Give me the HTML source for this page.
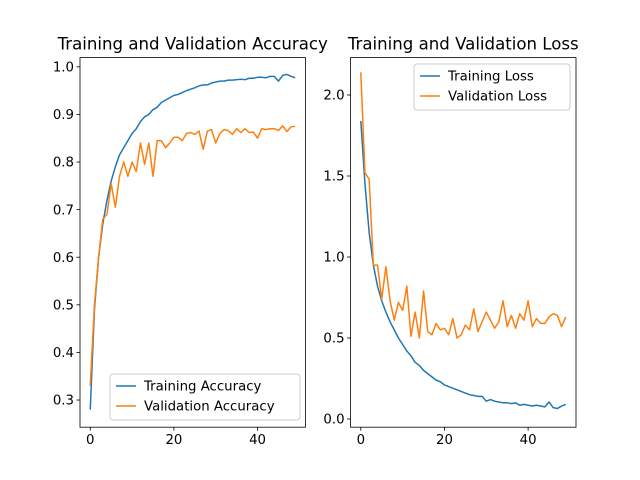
<!DOCTYPE html>
<html><head><meta charset="utf-8"><style>
body{margin:0;background:#fff}
svg{display:block;font-family:"DejaVu Sans","Liberation Sans",sans-serif}
</style></head><body>
<svg id="fig" width="640" height="480"></svg>
<script>
const epochs = Array.from({length:50},(_,i)=>i);
const trainAcc=[0.28,0.49,0.6,0.67,0.72,0.76,0.79,0.815,0.83,0.845,0.86,0.87,0.885,0.895,0.90,0.91,0.915,0.925,0.93,0.935,0.94,0.942,0.946,0.95,0.953,0.956,0.96,0.962,0.962,0.966,0.968,0.97,0.97,0.972,0.972,0.973,0.974,0.973,0.976,0.976,0.978,0.978,0.977,0.98,0.98,0.97,0.982,0.984,0.98,0.977];
const valAcc=[0.33,0.50,0.60,0.68,0.69,0.755,0.705,0.77,0.80,0.77,0.80,0.78,0.84,0.795,0.84,0.77,0.845,0.845,0.83,0.84,0.852,0.852,0.845,0.86,0.862,0.858,0.865,0.827,0.865,0.868,0.84,0.86,0.868,0.866,0.858,0.87,0.862,0.87,0.862,0.863,0.85,0.87,0.868,0.87,0.87,0.866,0.876,0.864,0.874,0.875];
const trainLoss=[1.84,1.45,1.15,0.95,0.82,0.73,0.66,0.60,0.55,0.50,0.46,0.42,0.39,0.35,0.33,0.30,0.28,0.26,0.24,0.23,0.21,0.20,0.19,0.18,0.17,0.16,0.15,0.145,0.14,0.14,0.11,0.12,0.11,0.105,0.10,0.10,0.095,0.10,0.085,0.09,0.085,0.08,0.085,0.08,0.075,0.105,0.07,0.065,0.08,0.09];
const valLoss=[2.14,1.52,1.48,0.95,0.95,0.74,0.94,0.73,0.61,0.72,0.67,0.82,0.51,0.66,0.50,0.79,0.54,0.52,0.59,0.55,0.56,0.52,0.62,0.50,0.52,0.58,0.55,0.68,0.54,0.60,0.66,0.61,0.56,0.60,0.73,0.57,0.64,0.56,0.65,0.61,0.73,0.57,0.62,0.59,0.59,0.63,0.65,0.64,0.57,0.63];
const xTicks=[0,20,40];
const accTicks=[0.3,0.4,0.5,0.6,0.7,0.8,0.9,1.0];
const lossTicks=[0.0,0.5,1.0,1.5,2.0];
const NS="http://www.w3.org/2000/svg";
const svg=document.getElementById('fig');
function mk(t,a,p){const e=document.createElementNS(NS,t);for(const k in a)e.setAttribute(k,a[k]);(p||svg).appendChild(e);return e;}
function panel(o){
  const g=mk('g',{});
  
  
  const L=o.left,R=o.left+225.45,T=57.6,B=427.2;
  const xs=v=>L+(v+2.45)/53.9*225.45;
  const ys=v=>B-(v-o.ymin)/(o.ymax-o.ymin)*(B-T);
  xTicks.forEach(t=>{const x=xs(t);mk('line',{x1:x,x2:x,y1:B,y2:B+3.5,stroke:'#000','stroke-width':0.8},g);
    const tx=mk('text',{x:x,y:B+17,'font-size':13.3,'text-anchor':'middle'},g);tx.textContent=t;
    
    });
  o.yticks.forEach(t=>{const y=ys(t);mk('line',{x1:L-3.5,x2:L,y1:y,y2:y,stroke:'#000','stroke-width':0.8},g);
    const tx=mk('text',{x:L-6,y:y+4.7,'font-size':13.3,'text-anchor':'end'},g);tx.textContent=t.toFixed(1);
    
    });
  o.series.forEach(s=>{const p=mk('polyline',{points:s.d.map((v,i)=>xs(epochs[i]).toFixed(2)+','+ys(v).toFixed(2)).join(' '),fill:'none',stroke:s.c,'stroke-width':1.5,'stroke-linejoin':'round'},g);
    
    });
  mk('rect',{x:L,y:T,width:225.45,height:B-T,fill:'none',stroke:'#000','stroke-width':0.8},g);
  const tt=mk('text',{x:(L+R)/2,y:49.5,'font-size':16.6,'text-anchor':'middle'},g);tt.textContent=o.title;
  
  
  const lg=mk('g',{},g);
  
  
  mk('rect',{x:o.lx,y:o.ly,width:o.lw,height:46,rx:3,fill:'#fff','fill-opacity':0.8,stroke:'#ccc','stroke-width':1},lg);
  o.series.forEach((s,i)=>{const y=o.ly+12+i*20;
    mk('line',{x1:o.lx+6,x2:o.lx+26,y1:y,y2:y,stroke:s.c,'stroke-width':1.5},lg);
    const t=mk('text',{x:o.lx+34,y:y+4.5,'font-size':13.3},lg);t.textContent=s.label;
    
    });
}
panel({name:'accuracy-chart',left:80,ymin:0.2429,ymax:1.0194,yticks:accTicks,title:'Training and Validation Accuracy',
  lx:110,ly:374,lw:190,
  series:[{d:trainAcc,c:'#1f77b4',label:'Training Accuracy',n:'training-accuracy-line'},{d:valAcc,c:'#ff7f0e',label:'Validation Accuracy',n:'validation-accuracy-line'}]});
panel({name:'loss-chart',left:350.55,ymin:-0.0506,ymax:2.2309,yticks:lossTicks,title:'Training and Validation Loss',
  lx:414,ly:64,lw:156,
  series:[{d:trainLoss,c:'#1f77b4',label:'Training Loss',n:'training-loss-line'},{d:valLoss,c:'#ff7f0e',label:'Validation Loss',n:'validation-loss-line'}]});
</script>
</body></html>
